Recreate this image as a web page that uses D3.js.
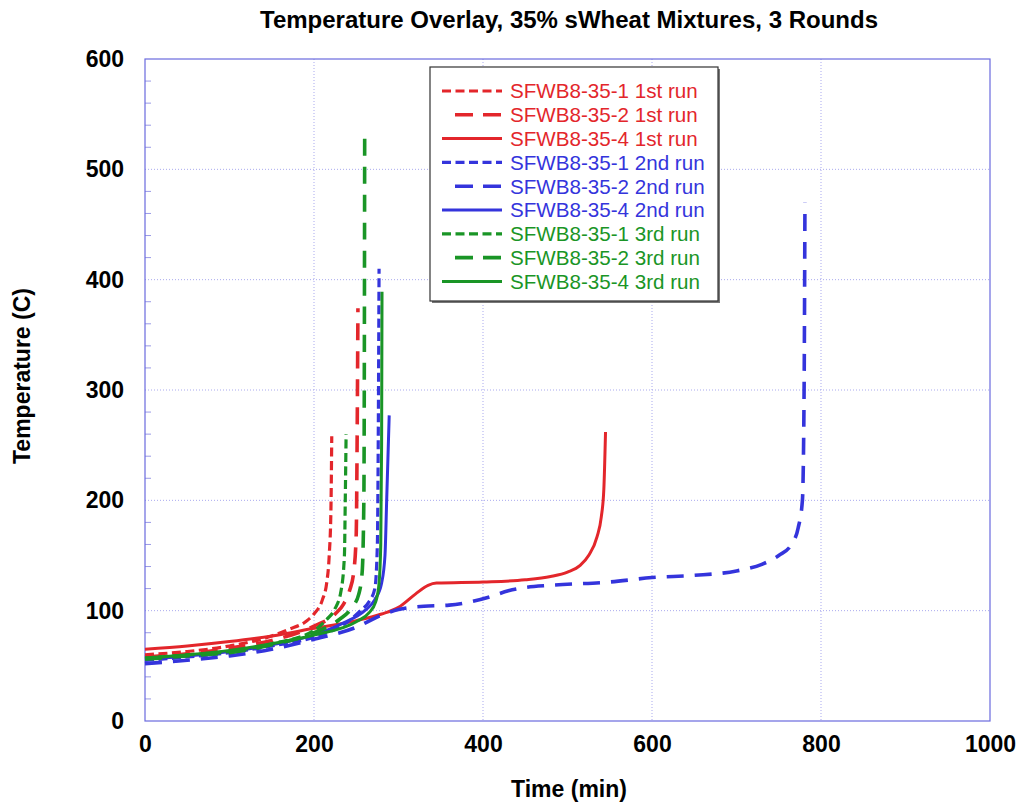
<!DOCTYPE html>
<html>
<head>
<meta charset="utf-8">
<script src="https://cdn.jsdelivr.net/npm/d3@7"></script>
<style>
  html, body { margin: 0; padding: 0; background: #fff; }
  svg { display: block; font-family: "Liberation Sans", Arial, sans-serif; }
</style>
</head>
<body>
<svg id="chart" width="1019" height="804"></svg>
<script>
// Time (min) vs temperature (C) for each sample and run
const s1Run1 = [[0,60],[50,63],[100,68],[150,77],[170,83],[190,90],[200,97],[210,110],[215,125],[218,150],[220,190],[221,258]];
const s2Run1 = [[0,58],[50,61],[100,66],[150,73],[200,86],[225,97],[235,106],[242,118],[247,135],[250,170],[251,250],[252,374]];
const s4Run1 = [[0,65],[50,68],[100,72],[150,77],[200,84],[250,91],[280,97],[300,103],[320,115],[335,123],[345,125],[400,126],[450,128],[480,131],[500,135],[515,141],[525,150],[535,167],[540,185],[543,210],[545,262]];
const s1Run2 = [[0,55],[50,58],[100,62],[150,68],[200,76],[240,90],[255,100],[265,108],[272,120],[275,160],[276,250],[277,410]];
const s2Run2 = [[0,52],[50,55],[100,59],[150,65],[200,74],[250,85],[280,96],[300,101],[330,104],[360,105],[385,108],[410,113],[430,118],[450,121],[480,123],[550,126],[600,130],[650,132],[700,136],[730,142],[750,150],[765,160],[773,175],[778,200],[780,300],[781,470]];
const s4Run2 = [[0,56],[50,59],[100,63],[150,69],[200,78],[235,89],[260,100],[272,110],[280,125],[284,150],[286,200],[289,277]];
const s1Run3 = [[0,57],[50,60],[100,63],[150,70],[200,82],[215,92],[225,102],[232,118],[236,150],[237,200],[238,260]];
const s2Run3 = [[0,56],[50,59],[100,62],[150,69],[200,80],[230,92],[245,103],[253,115],[257,135],[259,200],[259.5,300],[260,538]];
const s4Run3 = [[0,57],[50,60],[100,64],[150,70],[200,78],[250,90],[265,98],[273,108],[277,125],[279,160],[280,250],[280.5,389]];

const seriesNames = [
  "SFWB8-35-1 1st run", "SFWB8-35-2 1st run", "SFWB8-35-4 1st run",
  "SFWB8-35-1 2nd run", "SFWB8-35-2 2nd run", "SFWB8-35-4 2nd run",
  "SFWB8-35-1 3rd run", "SFWB8-35-2 3rd run", "SFWB8-35-4 3rd run"
];
const seriesData = [s1Run1, s2Run1, s4Run1, s1Run2, s2Run2, s4Run2, s1Run3, s2Run3, s4Run3];

const xTicks = [0, 200, 400, 600, 800, 1000];
const yTicks = [0, 100, 200, 300, 400, 500, 600];
const yMinorTicks = d3.range(0, 601, 20);

// Run colour and sample line style
const runColors = ["#e3262b", "#3434dc", "#1a9526"];
const styles = [
  { dash: "9,4.5", width: 3.2 },   // sample 1: short dash
  { dash: "17,11", width: 3.6 },   // sample 2: long dash
  { dash: null, width: 3 }         // sample 4: solid
];

const svg = d3.select("#chart");
const margin = { left: 145, right: 29, top: 59, bottom: 83 };
const W = 1019, H = 804;

const x = d3.scaleLinear().domain([0, 1000]).range([margin.left, W - margin.right]);
const y = d3.scaleLinear().domain([0, 600]).range([H - margin.bottom, margin.top]);

const gridColor = "#a9a9ee";
const frameColor = "#6a6ade";

// Dotted grid
const grid = svg.append("g");
grid.selectAll("line.vg").data(xTicks.slice(1, -1)).join("line")
  .attr("x1", d => x(d)).attr("x2", d => x(d))
  .attr("y1", y(600)).attr("y2", y(0))
  .attr("stroke", gridColor).attr("stroke-width", 1).attr("stroke-dasharray", "1,2");
grid.selectAll("line.hg").data(yTicks.slice(1, -1)).join("line")
  .attr("x1", x(0)).attr("x2", x(1000))
  .attr("y1", d => y(d)).attr("y2", d => y(d))
  .attr("stroke", gridColor).attr("stroke-width", 1).attr("stroke-dasharray", "1,2");

// Minor ticks on the left axis
svg.append("g").selectAll("line").data(yMinorTicks.filter(d => d % 100 !== 0)).join("line")
  .attr("x1", x(0)).attr("x2", x(0) + 6)
  .attr("y1", d => y(d)).attr("y2", d => y(d))
  .attr("stroke", "#9a9ae6").attr("stroke-width", 1);

// Frame
svg.append("rect")
  .attr("x", x(0)).attr("y", y(600))
  .attr("width", x(1000) - x(0)).attr("height", y(0) - y(600))
  .attr("fill", "none").attr("stroke", frameColor).attr("stroke-width", 1.2);

// Axis labels (frame and grid drawn above)
const labelFont = "'Liberation Sans', Arial, sans-serif";
const xAxis = svg.append("g").attr("transform", `translate(0,${y(0)})`)
  .call(d3.axisBottom(x).tickValues(xTicks).tickSize(0).tickPadding(15).tickFormat(d3.format("d")));
xAxis.select(".domain").remove();
xAxis.selectAll("text").attr("font-size", 23).attr("font-weight", "bold").attr("fill", "#000")
  .attr("font-family", labelFont);

const yAxis = svg.append("g").attr("transform", `translate(${x(0)},0)`)
  .call(d3.axisLeft(y).tickValues(yTicks).tickSize(0).tickPadding(21).tickFormat(d3.format("d")));
yAxis.select(".domain").remove();
yAxis.selectAll("text").attr("font-size", 23).attr("font-weight", "bold").attr("fill", "#000")
  .attr("font-family", labelFont);

// Curves
const line = d3.line().x(d => x(d[0])).y(d => y(d[1])).curve(d3.curveMonotoneX);
const curves = svg.append("g");
seriesData.forEach((data, i) => {
  const run = Math.floor(i / 3), st = styles[i % 3];
  curves.append("path")
    .datum(data)
    .attr("d", line)
    .attr("fill", "none")
    .attr("stroke", runColors[run])
    .attr("stroke-width", st.width)
    .attr("stroke-dasharray", st.dash)
    .attr("stroke-linecap", "butt")
    .attr("stroke-linejoin", "round");
});

// Legend
const lg = svg.append("g");
const lx = 430, ly = 67, lw = 288, lh = 234;
lg.append("rect").attr("x", lx + 2).attr("y", ly + 2).attr("width", lw).attr("height", lh)
  .attr("fill", "#777");
lg.append("rect").attr("x", lx).attr("y", ly).attr("width", lw).attr("height", lh)
  .attr("fill", "#fff").attr("stroke", "#333").attr("stroke-width", 1.2);
seriesNames.forEach((name, i) => {
  const run = Math.floor(i / 3), st = styles[i % 3];
  const cy = 91 + i * 23.8;
  const x0 = (i % 3 === 1) ? 455 : 442;
  lg.append("line")
    .attr("x1", x0).attr("x2", 502).attr("y1", cy).attr("y2", cy)
    .attr("stroke", runColors[run]).attr("stroke-width", st.width)
    .attr("stroke-dasharray", (i % 3 === 1) ? "18,10" : st.dash);
  lg.append("text").attr("x", 510).attr("y", cy).attr("dy", "0.36em")
    .attr("font-size", 20.6).attr("fill", runColors[run]).text(name);
});

// Titles
svg.append("text").attr("x", 569).attr("y", 28).attr("text-anchor", "middle")
  .attr("font-size", 24).attr("font-weight", "bold").text("Temperature Overlay, 35% sWheat Mixtures, 3 Rounds");
svg.append("text").attr("x", 569).attr("y", 797).attr("text-anchor", "middle")
  .attr("font-size", 23).attr("font-weight", "bold").text("Time (min)");
svg.append("text").attr("transform", "translate(30,376) rotate(-90)").attr("text-anchor", "middle")
  .attr("font-size", 23).attr("font-weight", "bold").text("Temperature (C)");
</script>
</body>
</html>
